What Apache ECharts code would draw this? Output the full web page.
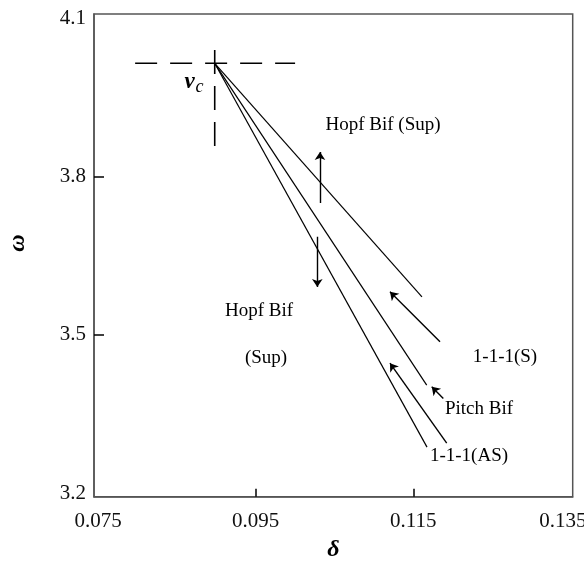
<!DOCTYPE html>
<html><head><meta charset="utf-8">
<script src="https://cdn.jsdelivr.net/npm/echarts@6/dist/echarts.min.js"></script>
<style>html,body{margin:0;padding:0;background:#fff}#c{width:584px;height:562px}</style>
</head><body><div id="c"></div>
<script>
// axis ranges and ticks
const xRange = [0.07448, 0.13523];
const yRange = [3.1936, 4.108];
const xTickLabels = [0.075, 0.095, 0.115, 0.135];
const xTicks = [0.095, 0.115];
const yTickLabels = [3.2, 3.5, 3.8, 4.1];
const yTicks = [3.5, 3.8];

// critical point v_c
const vertex = [0.0898, 4.0146];
// boundary curves (delta, omega)
const hopfUpper = [vertex, [0.1161, 3.5723]];
const pitchCurve = [vertex, [0.1167, 3.405]];
const asCurve = [vertex, [0.11674, 3.2875]];
// dashed cross-hair through v_c
const dashH = [[0.0797, 4.0146], [0.1000, 4.0146]];
const dashV = [[0.0898, 3.858], [0.0898, 4.0625]];
// arrows [from, to]
const arrows = [
  [[0.10316, 3.750], [0.10316, 3.8465]],
  [[0.10282, 3.686], [0.10282, 3.591]],
  [[0.11839, 3.487], [0.11204, 3.5817]],
  [[0.11881, 3.3798], [0.11734, 3.402]],
  [[0.11924, 3.295], [0.11204, 3.4466]]
];
// annotations
const notes = [
  {text: 'Hopf Bif (Sup)', x: 383, y: 125},
  {text: 'Hopf Bif', x: 259, y: 311},
  {text: '(Sup)', x: 266, y: 358},
  {text: '1-1-1(S)', x: 505, y: 357},
  {text: 'Pitch Bif', x: 479, y: 409},
  {text: '1-1-1(AS)', x: 469, y: 456}
];

const serif = '"Liberation Serif", "DejaVu Serif", serif';
const chart = echarts.init(document.getElementById('c'), null, {renderer: 'canvas'});

function solid(data) {
  return {type: 'line', data: data, symbol: 'none', silent: true, animation: false,
    lineStyle: {color: '#000', width: 1.2}};
}
function dashed(data, pattern) {
  return {type: 'line', data: data, symbol: 'none', silent: true, animation: false,
    lineStyle: {color: '#000', width: 1.6, type: pattern}};
}

const graphics = notes.map(n => ({
  type: 'text', x: n.x, y: n.y, silent: true,
  style: {text: n.text, font: '19px ' + serif, fill: '#000', align: 'center', verticalAlign: 'middle'}
}));
graphics.push({
  type: 'text', x: 194, y: 82, silent: true,
  style: {
    text: '{v|v}{c|c}', align: 'center', verticalAlign: 'middle',
    rich: {
      v: {font: 'italic bold 23px ' + serif, fill: '#000'},
      c: {font: 'italic 18px ' + serif, fill: '#000', padding: [10, 0, 0, 1]}
    }
  }
});
graphics.push({
  type: 'text', x: 18, y: 243, rotation: Math.PI / 2, silent: true,
  style: {text: 'ω', font: 'italic bold 24px ' + serif, fill: '#000', align: 'center', verticalAlign: 'middle'}
});

const lastX = xTickLabels[xTickLabels.length - 1];

chart.setOption({
  animation: false,
  backgroundColor: '#fff',
  grid: {left: 94, top: 14, width: 478.7, height: 482.7, show: true, containLabel: false,
    outerBoundsMode: 'none',
    borderColor: '#555', borderWidth: 1.5, backgroundColor: 'transparent'},
  xAxis: {
    type: 'value', min: xRange[0], max: xRange[1],
    name: 'δ', nameLocation: 'middle', nameGap: 41,
    nameTextStyle: {fontFamily: serif, fontStyle: 'italic', fontWeight: 'bold', fontSize: 24, color: '#000'},
    axisLine: {show: true, onZero: false, lineStyle: {color: '#555', width: 1.5}},
    axisTick: {show: true, inside: true, length: 8, customValues: xTicks, lineStyle: {color: '#000', width: 1.5}},
    axisLabel: {customValues: xTickLabels, margin: 14,
      formatter: v => Math.abs(v - lastX) < 1e-9 ? '{r|' + v.toFixed(3) + '}' : v.toFixed(3),
      rich: {r: {fontFamily: serif, fontSize: 21, color: '#111', padding: [0, 16, 0, 0]}},
      fontFamily: serif, fontSize: 21, color: '#111'},
    splitLine: {show: false}
  },
  yAxis: {
    type: 'value', min: yRange[0], max: yRange[1],
    axisLine: {show: true, onZero: false, lineStyle: {color: '#555', width: 1.5}},
    axisTick: {show: true, inside: true, length: 10, customValues: yTicks, lineStyle: {color: '#000', width: 1.5}},
    axisLabel: {customValues: yTickLabels, formatter: v => v.toFixed(1), margin: 8,
      fontFamily: serif, fontSize: 21, color: '#111'},
    splitLine: {show: false}
  },
  series: [
    solid(hopfUpper), solid(pitchCurve), solid(asCurve),
    dashed(dashH, [22, 13]), dashed(dashV, [24, 12]),
    {
      type: 'lines', coordinateSystem: 'cartesian2d', silent: true, animation: false,
      symbol: ['none', 'arrow'], symbolSize: [0, 8],
      lineStyle: {color: '#000', width: 1.4, opacity: 1},
      data: arrows.map(a => ({coords: a}))
    }
  ],
  graphic: graphics
});
</script></body></html>
